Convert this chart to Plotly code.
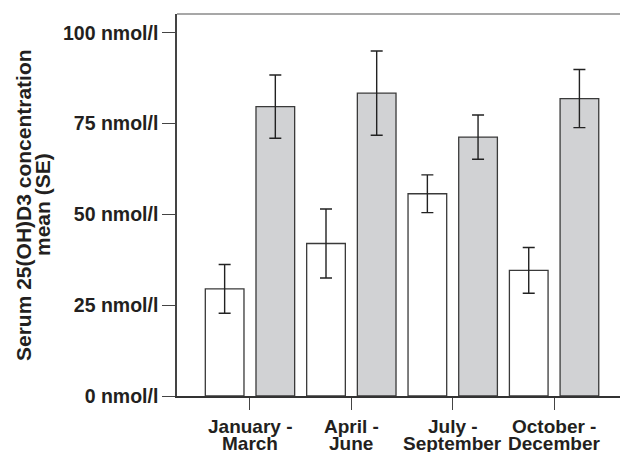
import plotly.graph_objects as go

# ---- data ----
categories = ["January - March", "April - June", "July - September", "October - December"]
label_line1 = ["January -", "April -", "July -", "October -"]
label_line2 = ["March", "June", "September", "December"]
white_means = [29.5, 42.0, 55.7, 34.6]
white_se = [6.7, 9.5, 5.2, 6.3]
gray_means = [79.7, 83.4, 71.3, 81.9]
gray_se = [8.7, 11.6, 6.1, 8.0]
y_tick_values = [0, 25, 50, 75, 100]
y_tick_labels = [f"{v} nmol/l" for v in y_tick_values]
y_title_lines = ["Serum 25(OH)D3 concentration", "mean (SE)"]

FONT = "Liberation Sans, Arial, sans-serif"
TXT = "#231f20"
xs = list(range(len(categories)))

# page body adds an 8px offset; the figure is sized to fill the rest of the window
OFF = 8
W, H = 628 - OFF, 452 - OFF

fig = go.Figure()
fig.add_trace(go.Bar(
    x=xs, y=white_means, name="white",
    marker=dict(color="white", line=dict(color="#3a3a3a", width=1.3)),
    error_y=dict(type="data", array=white_se, color="#222", thickness=1.4, width=6),
))
fig.add_trace(go.Bar(
    x=xs, y=gray_means, name="gray",
    marker=dict(color="#d1d2d4", line=dict(color="#3a3a3a", width=1.3)),
    error_y=dict(type="data", array=gray_se, color="#222", thickness=1.4, width=6),
))

L, R, T, B = 177 - OFF, 5, 14 - OFF, 56
fig.update_layout(
    width=W, height=H,
    margin=dict(l=L, r=R, t=T, b=B, autoexpand=False),
    paper_bgcolor="white", plot_bgcolor="white",
    barmode="group", bargap=0.0, bargroupgap=0.237,
    showlegend=False,
    font=dict(family=FONT, color=TXT),
    xaxis=dict(
        range=[-0.72, 3.68], tickvals=xs, showticklabels=False, automargin=False,
        ticks="outside", ticklen=12, tickwidth=1.3, tickcolor="#444",
        showline=True, linecolor="#333", linewidth=1.5, showgrid=False, zeroline=False,
    ),
    yaxis=dict(
        range=[0, 105.2], tickvals=y_tick_values, ticktext=y_tick_labels, automargin=False,
        tickfont=dict(size=19.5, family=FONT, color=TXT, weight="bold"),
        ticks="outside", ticklen=13, tickwidth=1.3, tickcolor="#444",
        showline=True, linecolor="#444", linewidth=1.5, showgrid=False, zeroline=False,
    ),
)

# top and right frame lines (gray)
fig.add_shape(type="line", xref="paper", yref="paper", x0=0, x1=1, y0=1, y1=1,
              line=dict(color="#8a8a8a", width=1.5))
fig.add_shape(type="line", xref="paper", yref="paper", x0=1, x1=1, y0=0, y1=1,
              line=dict(color="#8a8a8a", width=1.5))

# category labels (two tight lines)
for i in xs:
    fig.add_annotation(x=i, xref="x", y=0, yref="paper", text=label_line1[i],
                       showarrow=False, xanchor="center", yanchor="middle", yshift=-30,
                       font=dict(size=19, family=FONT, color=TXT, weight="bold"))
    fig.add_annotation(x=i, xref="x", y=0, yref="paper", text=label_line2[i],
                       showarrow=False, xanchor="center", yanchor="middle", yshift=-47,
                       font=dict(size=19, family=FONT, color=TXT, weight="bold"))

# y-axis title as two rotated lines
for txt, px in zip(y_title_lines, [23, 42]):
    fig.add_annotation(x=0, xref="paper", y=0.5, yref="paper", text=txt,
                       showarrow=False, textangle=-90, xanchor="center", yanchor="middle",
                       xshift=px - 177,
                       font=dict(size=21, family=FONT, color=TXT, weight="bold"))

fig.write_html("out.html")
